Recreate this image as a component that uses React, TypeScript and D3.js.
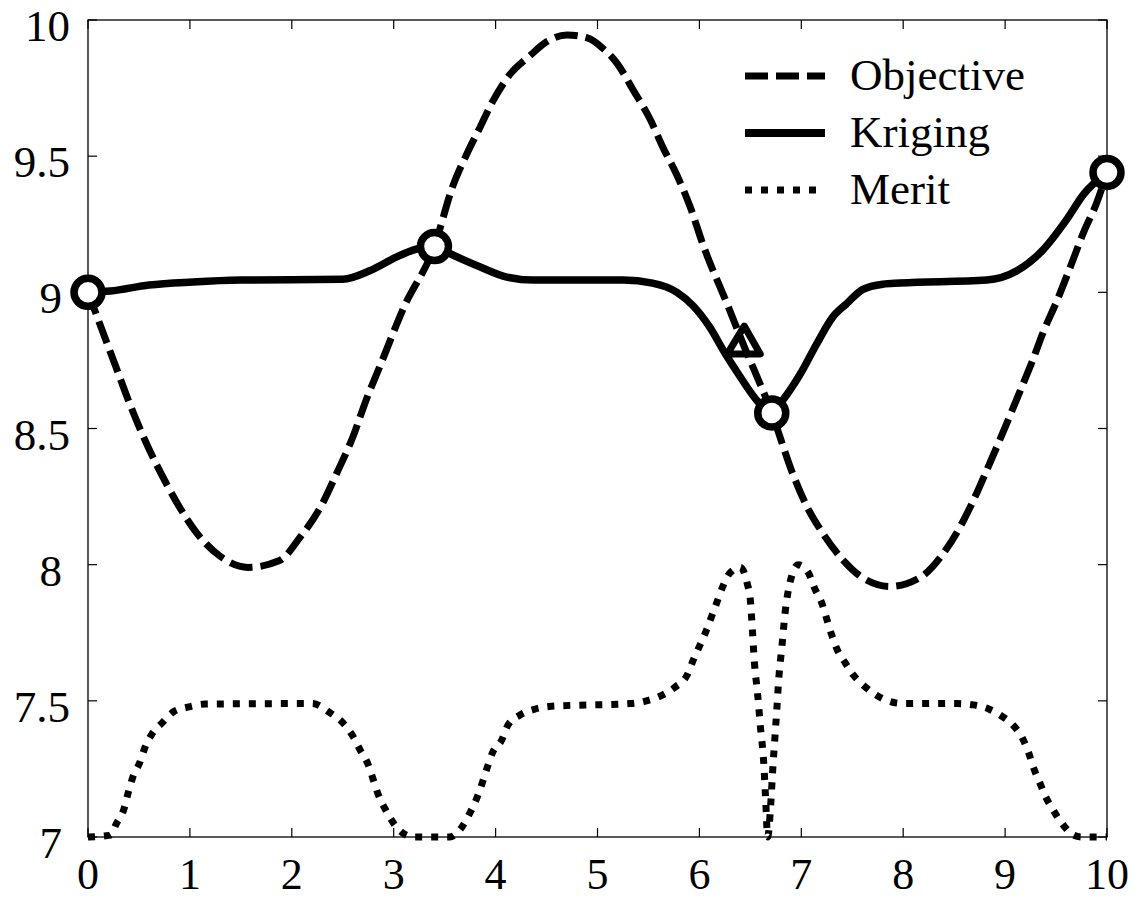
import React, { useRef, useEffect } from 'react';
import * as d3 from 'd3';

// values
const objectiveX = [0, 0.1, 0.28, 0.41, 0.58, 0.78, 0.9, 1.07, 1.3, 1.57, 1.88, 2.08, 2.28, 2.44, 2.6, 2.74, 2.85, 3.1, 3.4, 3.58, 3.72, 3.85, 3.97, 4.14, 4.34, 4.5, 4.7, 4.9, 5.05, 5.19, 5.35, 5.52, 5.64, 5.78, 5.91, 6.04, 6.28, 6.43, 6.71, 6.92, 7.06, 7.21, 7.41, 7.61, 7.87, 8.17, 8.39, 8.56, 8.69, 8.82, 8.95, 9.15, 9.27, 9.37, 9.51, 9.64, 9.77, 9.9, 10];
const objectiveY = [9.0, 8.9, 8.72, 8.59, 8.44, 8.29, 8.21, 8.115, 8.03, 7.99, 8.015, 8.1, 8.21, 8.335, 8.47, 8.615, 8.715, 8.945, 9.17, 9.39, 9.51, 9.608, 9.7, 9.8, 9.87, 9.92, 9.945, 9.934, 9.897, 9.842, 9.743, 9.633, 9.534, 9.43, 9.313, 9.17, 8.95, 8.81, 8.557, 8.33, 8.21, 8.116, 8.017, 7.95, 7.92, 7.954, 8.04, 8.14, 8.237, 8.347, 8.46, 8.64, 8.75, 8.85, 8.97, 9.093, 9.22, 9.33, 9.44];

const krigingX = [0, 0.22, 0.6, 1.03, 1.5, 2.5, 2.77, 3.03, 3.19, 3.4, 3.58, 3.85, 4.11, 4.37, 5.25, 5.54, 5.78, 5.94, 6.1, 6.25, 6.4, 6.56, 6.71, 6.82, 6.99, 7.15, 7.31, 7.45, 7.6, 7.8, 7.97, 8.82, 9.12, 9.37, 9.6, 9.77, 10];
const krigingY = [9.0, 9.005, 9.027, 9.038, 9.045, 9.048, 9.08, 9.13, 9.155, 9.168, 9.137, 9.093, 9.056, 9.045, 9.045, 9.034, 9.0, 8.95, 8.873, 8.777, 8.69, 8.605, 8.557, 8.605, 8.7, 8.81, 8.91, 8.96, 9.01, 9.03, 9.034, 9.045, 9.08, 9.155, 9.265, 9.36, 9.44];

const meritX = [0, 0.22, 0.28, 0.35, 0.4, 0.44, 0.51, 0.56, 0.63, 0.73, 0.84, 0.98, 1.15, 2.2, 2.38, 2.5, 2.6, 2.67, 2.75, 2.8, 2.85, 2.92, 3.0, 3.09, 3.2, 3.55, 3.67, 3.75, 3.82, 3.87, 3.91, 3.97, 4.06, 4.12, 4.24, 4.39, 4.55, 5.32, 5.48, 5.63, 5.76, 5.88, 5.94, 6.0, 6.07, 6.12, 6.17, 6.23, 6.3, 6.4, 6.47, 6.5, 6.52, 6.54, 6.57, 6.6, 6.63, 6.65, 6.67, 6.7, 6.72, 6.74, 6.76, 6.78, 6.81, 6.84, 6.89, 6.97, 7.07, 7.13, 7.2, 7.25, 7.3, 7.35, 7.43, 7.51, 7.6, 7.7, 7.85, 8.0, 8.53, 8.69, 8.84, 8.95, 9.08, 9.17, 9.23, 9.28, 9.34, 9.39, 9.47, 9.57, 9.67, 9.75, 10];
const meritY = [7.0, 7.007, 7.05, 7.1, 7.17, 7.22, 7.275, 7.33, 7.38, 7.42, 7.46, 7.477, 7.488, 7.49, 7.455, 7.42, 7.37, 7.32, 7.265, 7.21, 7.154, 7.1, 7.05, 7.014, 7.0, 7.0, 7.037, 7.09, 7.147, 7.2, 7.246, 7.31, 7.356, 7.41, 7.448, 7.47, 7.48, 7.49, 7.5, 7.52, 7.55, 7.595, 7.65, 7.7, 7.76, 7.81, 7.86, 7.92, 7.97, 7.99, 7.93, 7.87, 7.76, 7.64, 7.53, 7.4, 7.28, 7.14, 7.0, 7.12, 7.25, 7.36, 7.47, 7.587, 7.7, 7.82, 7.936, 8.0, 7.97, 7.914, 7.86, 7.8, 7.74, 7.69, 7.64, 7.595, 7.56, 7.53, 7.5, 7.49, 7.49, 7.485, 7.47, 7.448, 7.41, 7.363, 7.31, 7.253, 7.2, 7.154, 7.1, 7.044, 7.007, 7.0, 7.0];

const sampleX = [0, 3.4, 6.71, 10];
const sampleY = [9.0, 9.168, 8.557, 9.44];
const newPointX = [6.43];
const newPointY = [8.81];

const xTicks = [0, 1, 2, 3, 4, 5, 6, 7, 8, 9, 10];
const yTicks = [7, 7.5, 8, 8.5, 9, 9.5, 10];
const yTickLabels = ['7', '7.5', '8', '8.5', '9', '9.5', '10'];

const legendNames = ['Objective', 'Kriging', 'Merit'];
const legendDash = ['23,8', null, '7,9'];

export default function App() {
    const svgRef = useRef(null);
    const width = 1138;
    const height = 899;
    const margin = { top: 20, right: 31, bottom: 62, left: 88 };

    useEffect(() => {
        const svg = d3.select(svgRef.current);
        svg.selectAll('*').remove();

        const x = d3.scaleLinear().domain([0, 10]).range([margin.left, width - margin.right]);
        const y = d3.scaleLinear().domain([7, 10]).range([height - margin.bottom, margin.top]);
        const font = "'Liberation Serif', 'Times New Roman', Times, Tinos, serif";

        const x0 = x(0), x1 = x(10), y0 = y(7), y1 = y(10);

        // frame
        svg.append('rect')
            .attr('x', x0).attr('y', y1)
            .attr('width', x1 - x0).attr('height', y0 - y1)
            .attr('fill', 'none').attr('stroke', '#000').attr('stroke-width', 1.3);

        // inward ticks on all sides
        const tl = 9;
        xTicks.forEach(t => {
            svg.append('line').attr('x1', x(t)).attr('x2', x(t)).attr('y1', y0).attr('y2', y0 - tl).attr('stroke', '#000').attr('stroke-width', 1.2);
            svg.append('line').attr('x1', x(t)).attr('x2', x(t)).attr('y1', y1).attr('y2', y1 + tl).attr('stroke', '#000').attr('stroke-width', 1.2);
            svg.append('text')
                .attr('x', x(t)).attr('y', y0 + 52)
                .attr('text-anchor', 'middle')
                .style('font-family', font).style('font-size', '44px')
                .text(String(t));
        });
        yTicks.forEach((t, i) => {
            svg.append('line').attr('x1', x0).attr('x2', x0 + tl).attr('y1', y(t)).attr('y2', y(t)).attr('stroke', '#000').attr('stroke-width', 1.2);
            svg.append('line').attr('x1', x1).attr('x2', x1 - tl).attr('y1', y(t)).attr('y2', y(t)).attr('stroke', '#000').attr('stroke-width', 1.2);
            const lab = yTickLabels[i];
            svg.append('text')
                .attr('x', lab.length === 1 ? 62 : 70).attr('y', y(t) + 21)
                .attr('text-anchor', 'end')
                .style('font-family', font).style('font-size', '45px')
                .text(lab);
        });

        const line = d3.line<number>()
            .x(d => x(d[0]))
            .y(d => y(d[1]))
            .curve(d3.curveMonotoneX);

        const zip = (xs: number[], ys: number[]) => xs.map((v, i) => [v, ys[i]]);

        svg.append('path')
            .attr('d', line(zip(objectiveX, objectiveY) as any))
            .attr('fill', 'none').attr('stroke', '#000').attr('stroke-width', 7)
            .attr('stroke-dasharray', legendDash[0]);

        svg.append('path')
            .attr('d', line(zip(meritX, meritY) as any))
            .attr('fill', 'none').attr('stroke', '#000').attr('stroke-width', 7)
            .attr('stroke-dasharray', legendDash[2]);

        svg.append('path')
            .attr('d', line(zip(krigingX, krigingY) as any))
            .attr('fill', 'none').attr('stroke', '#000').attr('stroke-width', 7.5)
            .attr('stroke-linejoin', 'round');

        // sample points
        sampleX.forEach((sx, i) => {
            svg.append('circle')
                .attr('cx', x(sx)).attr('cy', y(sampleY[i])).attr('r', 14)
                .attr('fill', '#fff').attr('stroke', '#000').attr('stroke-width', 7.5);
        });

        // new infill point
        newPointX.forEach((px, i) => {
            const cx = x(px), cy = y(newPointY[i]);
            svg.append('path')
                .attr('d', `M${cx + 1},${cy - 18}L${cx + 17},${cy + 10}L${cx - 16},${cy + 10}Z`)
                .attr('fill', 'none').attr('stroke', '#000').attr('stroke-width', 7)
                .attr('stroke-linejoin', 'round');
        });

        // legend
        legendNames.forEach((name, i) => {
            const ly = 76 + i * 57;
            const l = svg.append('line')
                .attr('x1', 745).attr('x2', 825).attr('y1', ly).attr('y2', ly)
                .attr('stroke', '#000').attr('stroke-width', i === 1 ? 8 : 7);
            if (legendDash[i]) l.attr('stroke-dasharray', legendDash[i]);
            svg.append('text')
                .attr('x', 850).attr('y', ly + 14)
                .style('font-family', font).style('font-size', '45px')
                .text(name);
        });
    }, []);

    return (
        <svg ref={svgRef} width={width} height={height}
            style={{ position: 'absolute', left: 0, top: 0, background: '#fff' }}></svg>
    );
}
